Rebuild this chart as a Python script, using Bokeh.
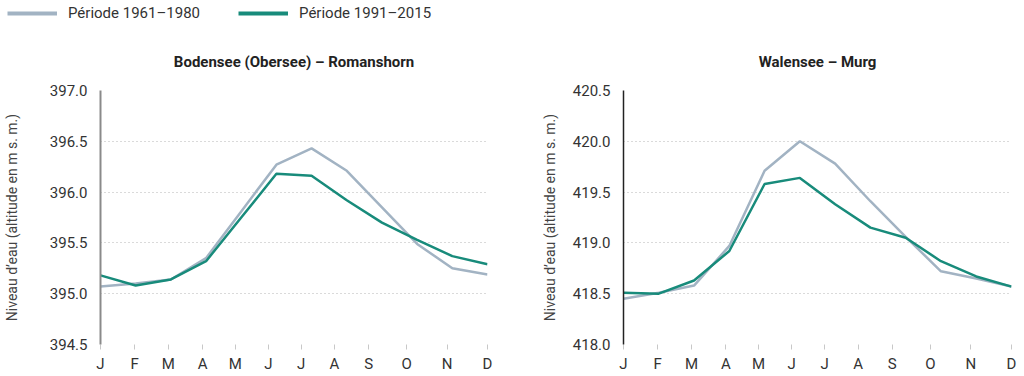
from bokeh.plotting import figure
from bokeh.layouts import column, row
from bokeh.models import Range1d, FixedTicker, NumeralTickFormatter, Legend, LegendItem
from bokeh.embed import file_html
from bokeh.resources import INLINE

# ---- data ----
months = ["J", "F", "M", "A", "M", "J", "J", "A", "S", "O", "N", "D"]
month_index = list(range(12))
month_tick_positions = [0, 0.97, 1.93, 2.9, 3.83, 4.77, 5.7, 6.65, 7.62, 8.7, 9.85, 11]

bodensee_1961_1980 = [395.07, 395.10, 395.14, 395.35, 395.81, 396.27, 396.43, 396.21, 395.85, 395.49, 395.25, 395.19]
bodensee_1991_2015 = [395.18, 395.08, 395.14, 395.32, 395.75, 396.18, 396.16, 395.92, 395.70, 395.53, 395.37, 395.29]
bodensee_ticks = [394.5, 395.0, 395.5, 396.0, 396.5, 397.0]

walensee_1961_1980 = [418.45, 418.51, 418.58, 418.97, 419.71, 420.00, 419.78, 419.41, 419.06, 418.72, 418.65, 418.57]
walensee_1991_2015 = [418.51, 418.50, 418.63, 418.92, 419.58, 419.64, 419.38, 419.15, 419.05, 418.82, 418.67, 418.57]
walensee_ticks = [418.0, 418.5, 419.0, 419.5, 420.0, 420.5]

label_old = "Période 1961–1980"
label_new = "Période 1991–2015"
y_label = "Niveau d’eau (altitude en m s. m.)"

GRAY = "#a2b3c3"
GREEN = "#188b7b"
FONT = "Roboto"
TEXT = "#333333"


def make_panel(title, old, new, yticks, axis_color, axis_width, label_standoff, b_left, b_right):
    p = figure(width=512, height=346, x_range=Range1d(0, 11),
               y_range=Range1d(yticks[0], yticks[-1]),
               output_backend="svg", toolbar_location=None,
               min_border_left=b_left, min_border_right=b_right,
               min_border_top=60, min_border_bottom=32, title=title)
    p.outline_line_color = None
    p.line(month_index, old, color=GRAY, line_width=2.5)
    p.line(month_index, new, color=GREEN, line_width=2.5)

    p.title.align = "center"
    p.title.text_font = FONT
    p.title.text_font_size = "15px"
    p.title.text_font_style = "bold"
    p.title.text_color = "#222222"
    p.title.standoff = 40

    p.xaxis.ticker = FixedTicker(ticks=month_tick_positions)
    p.xaxis.major_label_overrides = {t: m for t, m in zip(month_tick_positions, months)}
    p.xaxis.axis_line_color = None
    p.xaxis.major_tick_line_color = "#c8c8c8"
    p.xaxis.major_tick_in = 0
    p.xaxis.major_tick_out = 5
    p.xaxis.minor_tick_line_color = None
    p.xaxis.major_label_text_font = FONT
    p.xaxis.major_label_text_font_size = "15px"
    p.xaxis.major_label_text_color = TEXT
    p.xaxis.major_label_standoff = 5

    p.yaxis.ticker = FixedTicker(ticks=yticks)
    p.yaxis.formatter = NumeralTickFormatter(format="0.0")
    p.yaxis.axis_line_color = axis_color
    p.yaxis.axis_line_width = axis_width
    p.yaxis.major_tick_line_color = None
    p.yaxis.minor_tick_line_color = None
    p.yaxis.major_label_text_font = FONT
    p.yaxis.major_label_text_font_size = "15px"
    p.yaxis.major_label_text_color = TEXT
    p.yaxis.major_label_standoff = 7
    p.yaxis.axis_label = y_label
    p.yaxis.axis_label_text_font = FONT
    p.yaxis.axis_label_text_font_size = "14px"
    p.yaxis.axis_label_text_font_style = "normal"
    p.yaxis.axis_label_text_color = "#444444"
    p.yaxis.axis_label_standoff = label_standoff

    p.xgrid.visible = False
    p.ygrid.ticker = FixedTicker(ticks=yticks)
    p.ygrid.grid_line_color = "#b5b5b5"
    p.ygrid.grid_line_dash = "1 3"
    p.ygrid.grid_line_width = 1
    return p


p1 = make_panel("Bodensee (Obersee) – Romanshorn", bodensee_1961_1980, bodensee_1991_2015,
                bodensee_ticks, "#8a8a8a", 2, 27, 100, 25)
p2 = make_panel("Walensee – Murg", walensee_1961_1980, walensee_1991_2015,
                walensee_ticks, "#222222", 1.5, 12, 111, 13)

# legend strip
lf = figure(width=1024, height=30, x_range=Range1d(-100, -99), y_range=Range1d(-100, -99),
            output_backend="svg", toolbar_location=None, min_border=0,
            x_axis_type=None, y_axis_type=None)
lf.outline_line_color = None
lf.xgrid.visible = False
lf.ygrid.visible = False
r_old = lf.line(month_index, bodensee_1961_1980, color=GRAY, line_width=4)
r_new = lf.line(month_index, bodensee_1991_2015, color=GREEN, line_width=4)
legend = Legend(items=[LegendItem(label=label_old, renderers=[r_old]),
                       LegendItem(label=label_new, renderers=[r_new])],
                orientation="horizontal", location=(7, 7),
                glyph_width=50, glyph_height=20, label_standoff=11, spacing=38,
                padding=0, margin=0, border_line_alpha=0, background_fill_alpha=0,
                label_text_font=FONT, label_text_font_size="15px", label_text_color=TEXT)
lf.add_layout(legend)

layout = column(lf, row(p1, p2))
open("out.html", "w").write(file_html(layout, INLINE))
